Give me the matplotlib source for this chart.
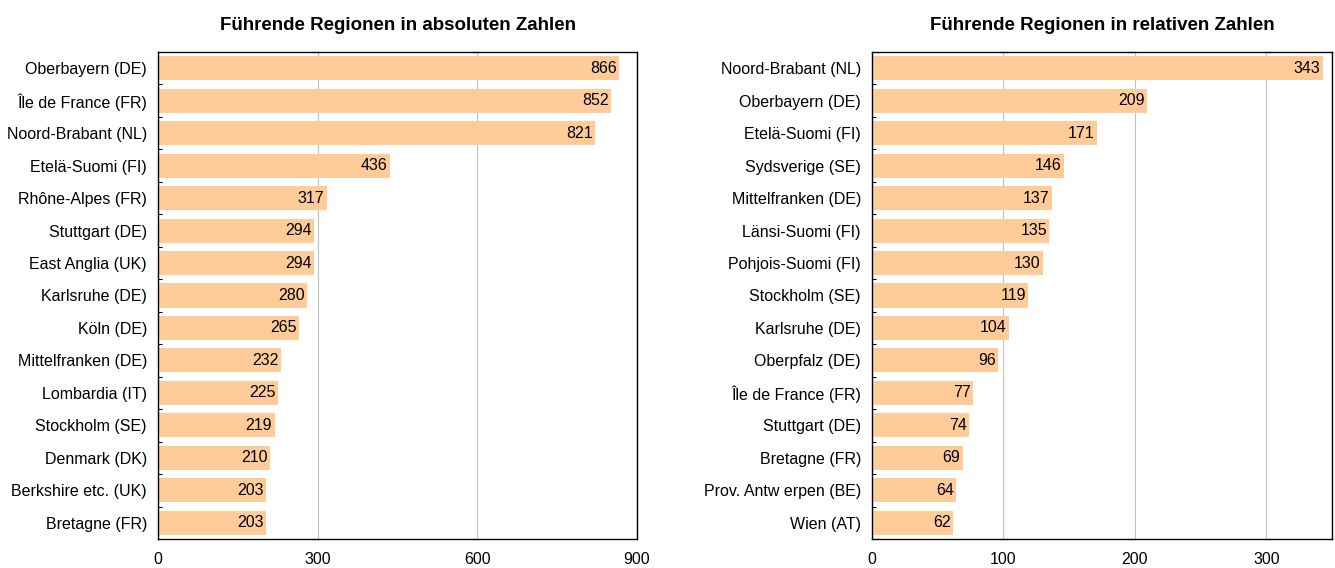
import matplotlib
matplotlib.use("Agg")
import matplotlib.pyplot as plt
import numpy as np

plt.rcParams['font.family'] = ['Liberation Sans', 'DejaVu Sans']

abs_regions = ["Oberbayern (DE)", "Île de France (FR)", "Noord-Brabant (NL)", "Etelä-Suomi (FI)",
               "Rhône-Alpes (FR)", "Stuttgart (DE)", "East Anglia (UK)", "Karlsruhe (DE)",
               "Köln (DE)", "Mittelfranken (DE)", "Lombardia (IT)", "Stockholm (SE)",
               "Denmark (DK)", "Berkshire etc. (UK)", "Bretagne (FR)"]
abs_values = [866, 852, 821, 436, 317, 294, 294, 280, 265, 232, 225, 219, 210, 203, 203]

rel_regions = ["Noord-Brabant (NL)", "Oberbayern (DE)", "Etelä-Suomi (FI)", "Sydsverige (SE)",
               "Mittelfranken (DE)", "Länsi-Suomi (FI)", "Pohjois-Suomi (FI)", "Stockholm (SE)",
               "Karlsruhe (DE)", "Oberpfalz (DE)", "Île de France (FR)", "Stuttgart (DE)",
               "Bretagne (FR)", "Prov. Antw erpen (BE)", "Wien (AT)"]
rel_values = [343, 209, 171, 146, 137, 135, 130, 119, 104, 96, 77, 74, 69, 64, 62]

abs_title = "Führende Regionen in absoluten Zahlen"
rel_title = "Führende Regionen in relativen Zahlen"
abs_ticks = [0, 300, 600, 900]
rel_ticks = [0, 100, 200, 300]

W, H = 1335, 568
fig = plt.figure(figsize=(W / 100, H / 100), dpi=100)

bar_color = "#FFCC99"
FS = 11.5

def panel(rect, regions, values, title, ticks, xmax):
    ax = fig.add_axes(rect)
    n = len(regions)
    y = np.arange(n)
    ax.barh(y, values, height=0.74, color=bar_color, zorder=2)
    ax.set_ylim(n - 0.5, -0.5)
    ax.set_xlim(0, xmax)
    ax.set_yticks(y)
    ax.set_yticklabels(regions, fontsize=FS)
    ax.tick_params(axis='y', length=0, pad=8)
    ax.set_yticks(np.arange(n - 1) + 0.5, minor=True)
    ax.tick_params(axis='y', which='minor', length=3, direction='in', width=0.8)
    ax.set_xticks(ticks)
    ax.set_xticklabels([str(t) for t in ticks], fontsize=FS)
    ax.tick_params(axis='x', length=0, pad=9)
    ax.xaxis.grid(True, color="#C0C0C0", linewidth=0.8, zorder=0)
    ax.set_axisbelow(True)
    for s in ax.spines.values():
        s.set_color("black")
        s.set_linewidth(1.0)
    for yi, v in zip(y, values):
        ax.text(v - xmax * 0.005, yi, str(v), ha='right', va='center', fontsize=FS, zorder=3)
    ax.set_title(title, fontsize=13.5, fontweight='bold', pad=16)
    return ax

top = 52 / H
bottom = 539 / H
panel([158 / W, 1 - bottom, (637 - 158) / W, bottom - top], abs_regions, abs_values, abs_title, abs_ticks, 900)
panel([872 / W, 1 - bottom, (1332 - 872) / W, bottom - top], rel_regions, rel_values, rel_title, rel_ticks, 350)

fig.savefig("out.png", dpi=100, facecolor="white")
